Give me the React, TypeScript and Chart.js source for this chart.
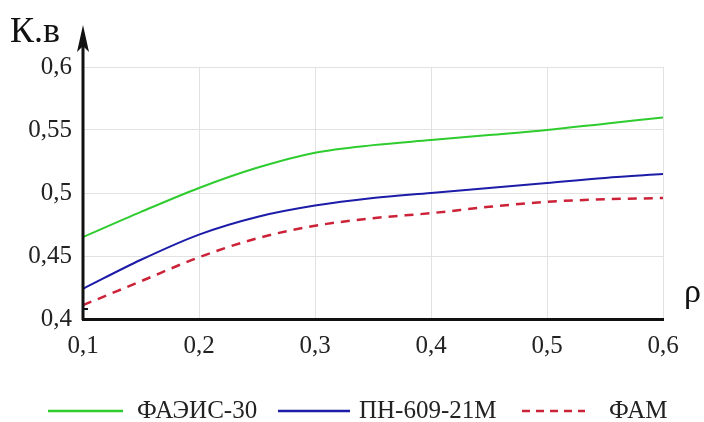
import React, { useEffect, useRef } from "react";
import { Chart, registerables } from "chart.js";

Chart.register(...registerables);

const rho = [0.1, 0.15, 0.2, 0.25, 0.3, 0.35, 0.4, 0.45, 0.5, 0.55, 0.6];
const faeis30 = [0.465, 0.485, 0.504, 0.52, 0.532, 0.538, 0.542, 0.546, 0.55, 0.555, 0.56];
const pn60921m = [0.424, 0.447, 0.467, 0.481, 0.49, 0.496, 0.5, 0.504, 0.508, 0.512, 0.515];
const fam = [0.411, 0.43, 0.449, 0.464, 0.474, 0.48, 0.484, 0.489, 0.493, 0.495, 0.496];
const seriesNames = ["ФАЭИС-30", "ПН-609-21М", "ФАМ"];
const yAxisTitle = "К.в";
const xAxisTitle = "ρ";

const FONT = "'Liberation Serif', 'Times New Roman', serif";

const fmt = (v: number) => {
  let s = v.toFixed(2);
  s = s.replace(/0+$/, "").replace(/\.$/, "");
  return s.replace(".", ",");
};

const decorPlugin = {
  id: "decor",
  afterDraw(chart: any) {
    const ctx = chart.ctx;
    const area = chart.chartArea;
    ctx.save();
    // y axis with arrow
    ctx.strokeStyle = "#111";
    ctx.fillStyle = "#111";
    ctx.lineWidth = 3;
    ctx.beginPath();
    ctx.moveTo(area.left, area.bottom + 1);
    ctx.lineTo(area.left, 45);
    ctx.stroke();
    ctx.beginPath();
    ctx.moveTo(area.left, 25);
    ctx.lineTo(area.left - 6, 52);
    ctx.lineTo(area.left, 46);
    ctx.lineTo(area.left + 6, 52);
    ctx.closePath();
    ctx.fill();
    // small tick at lowest label
    ctx.lineWidth = 2;
    ctx.beginPath();
    ctx.moveTo(area.left, 309);
    ctx.lineTo(area.left + 5, 309);
    ctx.stroke();
    // axis titles
    ctx.fillStyle = "#111";
    ctx.font = `36px ${FONT}`;
    ctx.textAlign = "left";
    ctx.textBaseline = "alphabetic";
    ctx.fillText(yAxisTitle, 10, 42);
    ctx.font = `34px ${FONT}`;
    ctx.fillText(xAxisTitle, 684, 302);
    // legend
    const items = [
      { x1: 48, x2: 123, tx: 137 },
      { x1: 278, x2: 350, tx: 359 },
      { x1: 522, x2: 585, tx: 609 },
    ];
    const ly = 411;
    ctx.font = `25px ${FONT}`;
    ctx.textBaseline = "middle";
    chart.data.datasets.forEach((ds: any, i: number) => {
      const it = items[i];
      ctx.strokeStyle = ds.borderColor;
      ctx.lineWidth = 2.5;
      ctx.setLineDash(ds.borderDash && ds.borderDash.length ? [8, 6] : []);
      ctx.beginPath();
      ctx.moveTo(it.x1, ly);
      ctx.lineTo(it.x2, ly);
      ctx.stroke();
      ctx.setLineDash([]);
      ctx.fillStyle = "#222";
      ctx.fillText(ds.label, it.tx, ly);
    });
    ctx.restore();
  },
};

export default function App() {
  const ref = useRef<HTMLCanvasElement | null>(null);
  useEffect(() => {
    document.body.style.margin = "0";
    const canvas = ref.current;
    if (!canvas) return;
    const chart = new Chart(canvas, {
      type: "line",
      data: {
        labels: rho,
        datasets: [
          {
            label: seriesNames[0],
            data: rho.map((x, i) => ({ x, y: faeis30[i] })),
            borderColor: "#2ecc2e",
            borderWidth: 2,
            pointRadius: 0,
            tension: 0.4,
            cubicInterpolationMode: "monotone",
          },
          {
            label: seriesNames[1],
            data: rho.map((x, i) => ({ x, y: pn60921m[i] })),
            borderColor: "#1c1ca8",
            borderWidth: 2,
            pointRadius: 0,
            tension: 0.4,
            cubicInterpolationMode: "monotone",
          },
          {
            label: seriesNames[2],
            data: rho.map((x, i) => ({ x, y: fam[i] })),
            borderColor: "#cc2238",
            borderWidth: 2.5,
            borderDash: [9, 7],
            pointRadius: 0,
            tension: 0.4,
            cubicInterpolationMode: "monotone",
          },
        ],
      },
      options: {
        responsive: false,
        animation: false,
        layout: { padding: { left: 0, right: 41, top: 67, bottom: 0 } },
        plugins: { legend: { display: false }, tooltip: { enabled: false } },
        scales: {
          x: {
            type: "linear",
            min: 0.1,
            max: 0.6,
            ticks: {
              stepSize: 0.1,
              color: "#222",
              font: { family: FONT, size: 25 },
              padding: 12,
              callback: (v: any) => Number(v).toFixed(1).replace(".", ","),
            },
            grid: { color: "#e2e2e2", lineWidth: 1, drawTicks: false },
            border: { color: "#111", width: 3 },
            afterFit: (s: any) => {
              s.height = 103;
            },
          },
          y: {
            min: 0.4,
            max: 0.6,
            ticks: {
              stepSize: 0.05,
              color: "#222",
              font: { family: FONT, size: 25 },
              padding: 11,
              callback: (v: any) => fmt(Number(v)),
            },
            grid: { color: "#e2e2e2", lineWidth: 1, drawTicks: false },
            border: { display: false },
            afterFit: (s: any) => {
              s.width = 83;
            },
          },
        },
      },
      plugins: [decorPlugin],
    });
    return () => chart.destroy();
  }, []);
  return (
    <div style={{ position: "absolute", left: 0, top: 0, width: 704, height: 422, background: "#fff" }}>
      <canvas ref={ref} width={704} height={422} />
    </div>
  );
}
